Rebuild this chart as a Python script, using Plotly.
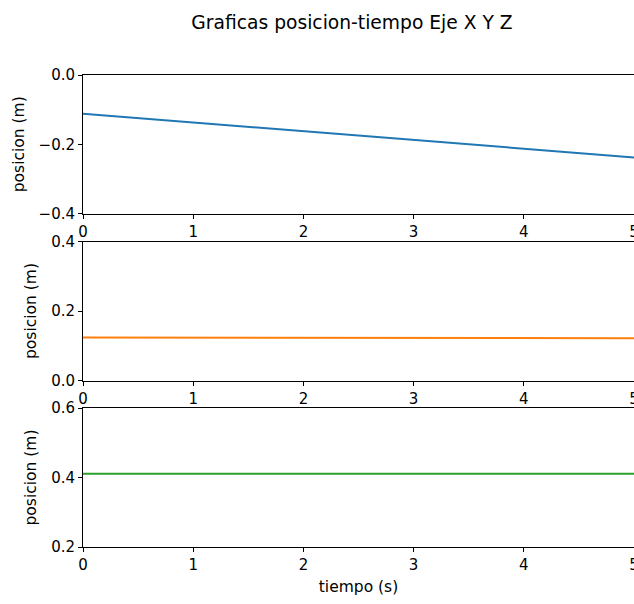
import plotly.graph_objects as go

tiempo = [0, 1, 2, 3, 4, 5]
pos_x = [-0.112, -0.137, -0.162, -0.188, -0.213, -0.238]
pos_y = [0.124, 0.1235, 0.123, 0.1225, 0.122, 0.1215]
pos_z = [0.411, 0.411, 0.411, 0.411, 0.411, 0.411]
x_ticks = [0, 1, 2, 3, 4, 5]
y_ranges = [[-0.4, 0.0], [0.0, 0.4], [0.2, 0.6]]
y_ticks = [[-0.4, -0.2, 0.0], [0.0, 0.2, 0.4], [0.2, 0.4, 0.6]]
colors = ["#1f77b4", "#ff7f0e", "#2ca02c"]
series = [pos_x, pos_y, pos_z]

W, H = 634, 604
fig = go.Figure()
panels_px = [(75, 213.5), (241.5, 380.5), (408, 547)]
tick_font = dict(family="DejaVu Sans", size=15, color="black")
label_font = dict(family="DejaVu Sans", size=15.5, color="black")

for i, (vals, col) in enumerate(zip(series, colors)):
    n = "" if i == 0 else str(i + 1)
    fig.add_trace(go.Scatter(x=tiempo, y=vals, mode="lines",
                             line=dict(color=col, width=2),
                             xaxis="x" + n, yaxis="y" + n, showlegend=False,
                             hoverinfo="skip"))
    top, bot = panels_px[i]
    dom = [1 - bot / H, 1 - top / H]
    xa = dict(domain=[83 / W, 1], range=[0, 5], tickvals=x_ticks,
              showgrid=False, zeroline=False, showline=True, mirror=True,
              linecolor="black", linewidth=1, ticks="outside", ticklen=4,
              tickcolor="black", tickfont=tick_font, anchor="y" + n,
              automargin=False, ticklabeloverflow="allow")
    ya = dict(domain=dom, range=y_ranges[i], tickvals=y_ticks[i],
              tickformat=".1f", showgrid=False, zeroline=False, showline=True,
              mirror=False, linecolor="black", linewidth=1, ticks="outside",
              ticklen=4, tickcolor="black", tickfont=tick_font, anchor="x" + n,
              automargin=False,
              title=dict(text="posicion (m)", font=label_font, standoff=10))
    if i == 2:
        xa["title"] = dict(text="tiempo (s)", font=label_font, standoff=8)
    fig.layout["xaxis" + n] = xa
    fig.layout["yaxis" + n] = ya

fig.update_layout(
    template="none",
    width=W, height=H,
    margin=dict(l=0, r=0, t=0, b=0, autoexpand=False),
    plot_bgcolor="white", paper_bgcolor="white",
    font=tick_font,
    title=dict(text="Graficas posicion-tiempo Eje X Y Z", x=352 / W,
               xanchor="center", y=1 - 22 / H, yanchor="middle",
               font=dict(family="DejaVu Sans", size=18.7, color="black")),
)
fig.write_html(
    "out.html",
    config={"displayModeBar": False},
    post_script="document.body.style.margin='0';document.body.style.overflow='hidden';",
)
